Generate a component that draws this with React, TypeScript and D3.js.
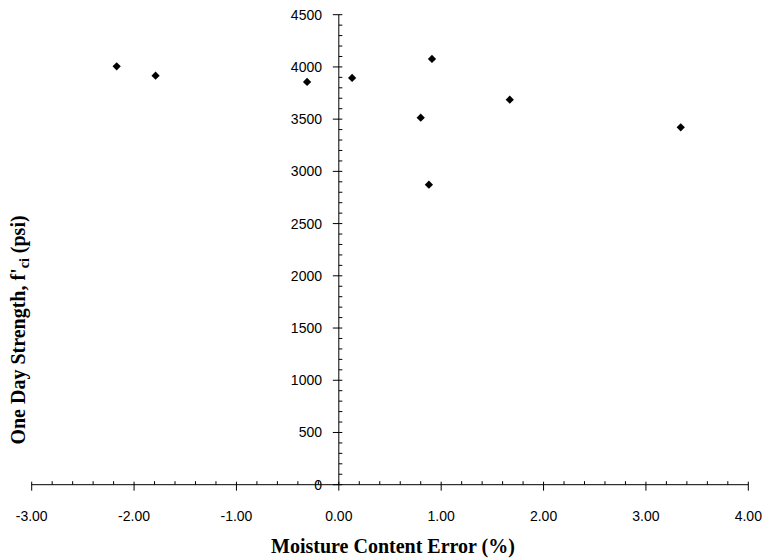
import React from "react";
import * as d3 from "d3";

const moistureError = [-2.17, -1.79, -0.31, 0.13, 0.91, 0.80, 0.88, 1.67, 3.34];
const strength = [4006, 3916, 3856, 3894, 4076, 3514, 2872, 3686, 3422];
const xTickValues = [-3, -2, -1, 0, 1, 2, 3, 4];
const yTickValues = [0, 500, 1000, 1500, 2000, 2500, 3000, 3500, 4000, 4500];

const W = 764;
const H = 560;
const left = 31.7;
const right = 748.3;
const top = 14.7;
const bottom = 484.7;

export default function App() {
  const x = d3.scaleLinear().domain([-3, 4]).range([left, right]);
  const y = d3.scaleLinear().domain([0, 4500]).range([bottom, top]);
  const x0 = x(0);
  const y0 = y(0);
  const xMinor = d3.range(-3, 4.0001, 0.2).filter((v) => Math.abs(v - Math.round(v)) > 1e-6);
  const yMinor = d3.range(0, 4500.1, 100).filter((v) => v % 500 !== 0);
  const diamond = d3.symbol(d3.symbolSquare, 34)();
  const fmt = (v: number) => d3.format(".2f")(v).replace("\u2212", "-");
  const tickFont = "'Liberation Sans', Arial, sans-serif";
  const titleFont = "'Liberation Serif', 'Times New Roman', serif";
  return (
    <div style={{ position: "absolute", left: 0, top: 0 }}>
      <svg width={W} height={H} style={{ display: "block", background: "#fff" }}>
        {/* x axis */}
        <line x1={x(-3)} x2={x(4)} y1={y0} y2={y0} stroke="#000" strokeWidth={1} />
        {xMinor.map((v, i) => (
          <line key={"xm" + i} x1={x(v)} x2={x(v)} y1={y0 - 3.5} y2={y0} stroke="#000" strokeWidth={1} />
        ))}
        {xTickValues.map((v) => (
          <g key={"xt" + v}>
            <line x1={x(v)} x2={x(v)} y1={y0 - 3} y2={y0 + 6} stroke="#000" strokeWidth={1} />
            <text x={x(v)} y={521} textAnchor="middle" fontFamily={tickFont} fontSize={14} fill="#000">
              {fmt(v)}
            </text>
          </g>
        ))}
        {/* y axis */}
        <line x1={x0} x2={x0} y1={y(0)} y2={y(4500)} stroke="#000" strokeWidth={1} />
        {yMinor.map((v, i) => (
          <line key={"ym" + i} x1={x0} x2={x0 + 3.5} y1={y(v)} y2={y(v)} stroke="#000" strokeWidth={1} />
        ))}
        {yTickValues.map((v) => (
          <g key={"yt" + v}>
            <line x1={x0 - 6} x2={x0 + 3.5} y1={y(v)} y2={y(v)} stroke="#000" strokeWidth={1} />
            <text x={322} y={y(v) + 5} textAnchor="end" fontFamily={tickFont} fontSize={14} fill="#000">
              {v}
            </text>
          </g>
        ))}
        {/* points */}
        {moistureError.map((v, i) => (
          <path
            key={"p" + i}
            d={diamond}
            transform={`translate(${x(v)},${y(strength[i])}) rotate(45)`}
            fill="#000"
          />
        ))}
        {/* titles */}
        <text x={393} y={553} textAnchor="middle" fontFamily={titleFont} fontWeight="bold" fontSize={20} fill="#000">
          Moisture Content Error (%)
        </text>
        <text
          transform="translate(25,330) rotate(-90)"
          textAnchor="middle"
          fontFamily={titleFont}
          fontWeight="bold"
          fontSize={20}
          fill="#000"
        >
          One Day Strength, f'
          <tspan fontSize={14} dy={4}>ci</tspan>
          <tspan dy={-4}> (psi)</tspan>
        </text>
      </svg>
    </div>
  );
}
